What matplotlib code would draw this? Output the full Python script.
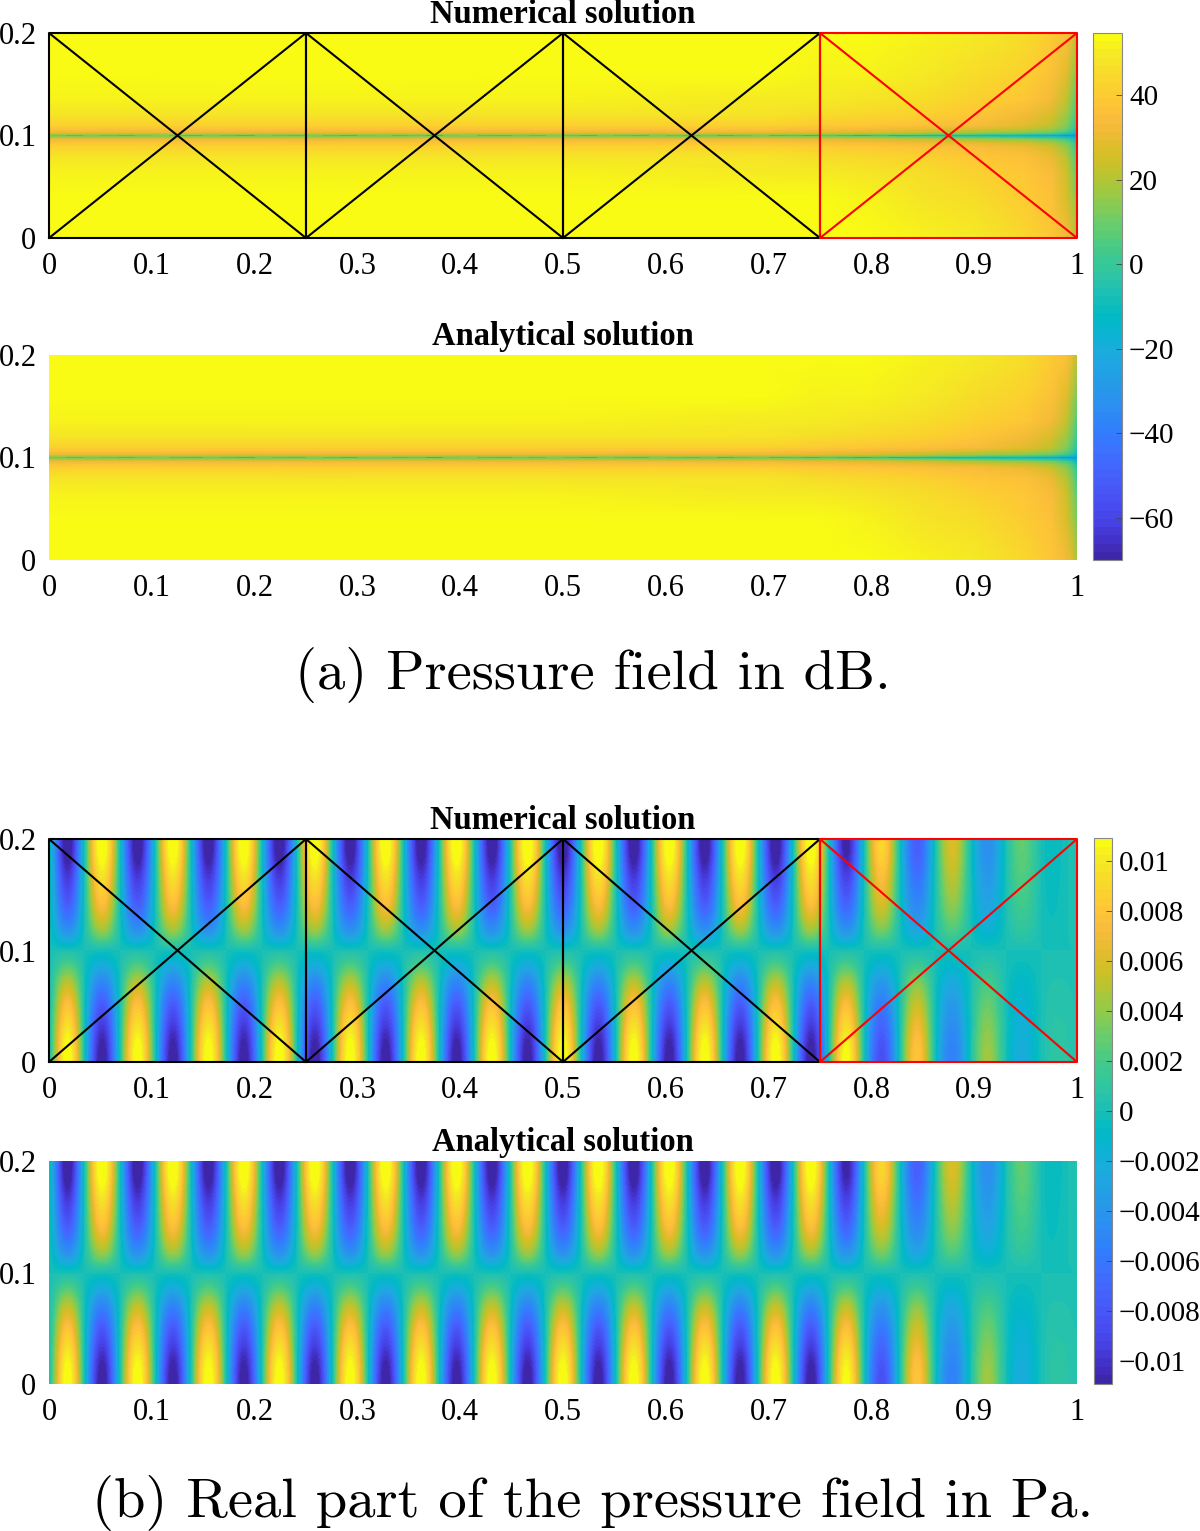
import numpy as np
import matplotlib
matplotlib.use('Agg')
import matplotlib.pyplot as plt
from matplotlib.colors import LinearSegmentedColormap, Normalize
from matplotlib.cm import ScalarMappable

W, H = 1200, 1531
SERIF = 'Liberation Serif'

# parula
parula_colors = [(0.2422, 0.1504, 0.6603), (0.2647, 0.1978, 0.7952), (0.2783, 0.2559, 0.8991),
                 (0.2813, 0.3006, 0.9414), (0.2795, 0.3447, 0.9717), (0.2699, 0.3892, 0.9906),
                 (0.2440, 0.4358, 0.9988), (0.1963, 0.4847, 0.9892), (0.1786, 0.5289, 0.9682),
                 (0.1687, 0.5703, 0.9359), (0.1460, 0.6091, 0.9079), (0.1248, 0.6459, 0.8883),
                 (0.0952, 0.6798, 0.8598), (0.0297, 0.7082, 0.8163), (0.0067, 0.7312, 0.7660),
                 (0.0964, 0.7500, 0.7120), (0.1717, 0.7670, 0.6554), (0.2161, 0.7843, 0.5923),
                 (0.2906, 0.7973, 0.5188), (0.3909, 0.8029, 0.4354), (0.5044, 0.7993, 0.3480),
                 (0.6174, 0.7876, 0.2612), (0.7242, 0.7698, 0.1910), (0.8203, 0.7498, 0.1535),
                 (0.9035, 0.7330, 0.1774), (0.9728, 0.7298, 0.2394), (0.9970, 0.7659, 0.2199),
                 (0.9892, 0.8136, 0.1885), (0.9676, 0.8639, 0.1643), (0.9597, 0.9135, 0.1423),
                 (0.9769, 0.9839, 0.0805)]
parula = LinearSegmentedColormap.from_list('parula', parula_colors, N=64)

# tick labels
x_ticks = [0, 0.1, 0.2, 0.3, 0.4, 0.5, 0.6, 0.7, 0.8, 0.9, 1]
x_labels = ['0', '0.1', '0.2', '0.3', '0.4', '0.5', '0.6', '0.7', '0.8', '0.9', '1']
y_ticks = [0, 0.1, 0.2]
y_labels = ['0', '0.1', '0.2']
cb_a_ticks = [-60, -40, -20, 0, 20, 40]
cb_a_labels = ['\u221260', '\u221240', '\u221220', '0', '20', '40']
cb_b_ticks = [-0.01, -0.008, -0.006, -0.004, -0.002, 0, 0.002, 0.004, 0.006, 0.008, 0.01]
cb_b_labels = ['\u22120.01', '\u22120.008', '\u22120.006', '\u22120.004', '\u22120.002', '0',
               '0.002', '0.004', '0.006', '0.008', '0.01']
clim_a = (-70, 54.7)
clim_b = (-0.0109, 0.0109)

# mesh element edges
elem_edges = [0, 0.25, 0.5, 0.75]
elem_width = 0.25
y_min, y_max = 0, 0.2

db_x = [0, 0.5, 0.7, 0.75, 0.8, 0.85, 0.9, 0.95, 0.975, 0.99, 0.997, 1]
db_off = [0, 0.0015, 0.003, 0.006, 0.01, 0.02, 0.035, 0.06, 0.1]
db_mid = [8, 8, 8, 7, 3, -4, -10, -15, -20, -25, -30, -35]
db_near_0015 = [18, 18, 18, 17, 14, 10, 6, 2, -2, -8, -14, -20]
db_near_003 = [31, 31, 30, 29, 26, 22, 16, 12, 8, 2, -6, -12]
db_near_006 = [37, 37, 36, 35, 33, 30, 26, 22, 16, 8, 0, -6]
db_up_01 = [43, 43, 42, 41, 39, 37, 34, 29, 22, 12, 3, -2]
db_up_02 = [48, 48, 47, 46, 44, 42, 38, 33, 27, 17, 7, 2]
db_up_035 = [51, 51, 50, 49, 48, 46, 43, 38, 32, 22, 10, 5]
db_up_06 = [54, 54, 53, 52, 51, 49, 46, 42, 36, 28, 16, 10]
db_up_1 = [55, 55, 55, 54, 53, 51, 49, 45, 41, 36, 28, 20]
db_dn_01 = [43, 43, 42, 41, 39, 37, 35, 31, 25, 14, 5, 0]
db_dn_02 = [48, 48, 47, 46, 44, 42, 39, 36, 31, 20, 9, 3]
db_dn_035 = [51, 51, 50, 49, 48, 46, 43, 39, 35, 25, 13, 6]
db_dn_06 = [54, 54, 53, 53, 51, 48, 45, 41, 36, 27, 17, 10]
db_dn_1 = [55, 55, 55, 55, 54, 52, 49, 44, 38, 33, 26, 18]

# speckled core of the y=0.1 line, equal stretches from x=0 to x=1
db_core = [6, -2, 9, 3, -5, 7, 12, 0, -4, 8, 2, -6, 10, 4, -3, 11, 1, -7, 6, 9,
           -2, 5, -8, 8, 13, 0, -4, 7, -1, 10, 3, -6, 9, 1, -5, 11, 4, -2, 6, -7,
           3, 8, -4, 0, -9, 2, -6, -12, -5, -15, -10, -18, -13, -22, -16, -24, -19, -27, -30, -38]

# real part, extrema along the top and bottom edges (every half wave, x = 1/58, 3/58, ...)
top_peaks = [-0.0105, 0.0105, -0.0105, 0.0105, -0.0105, 0.0105, -0.0105, 0.0105, -0.0105, 0.0105,
             -0.0105, 0.0105, -0.0105, 0.0105, -0.0105, 0.0105, -0.0105, 0.0105, -0.0105, 0.0105,
             -0.0105, 0.0105, -0.0100, 0.0082, -0.0068, 0.0055, -0.0040, 0.0025, -0.0004]
bot_peaks = [0.0105, -0.0105, 0.0105, -0.0105, 0.0105, -0.0105, 0.0105, -0.0105, 0.0105, -0.0105,
             0.0105, -0.0105, 0.0105, -0.0105, 0.0105, -0.0105, 0.0105, -0.0105, 0.0105, -0.0105,
             0.0105, -0.0105, 0.0102, -0.0078, 0.0075, -0.0050, 0.0040, -0.0020, 0.0008]
edge_value = 0.0004
# share of the edge value at y = 0.1, 0.1125, ... 0.2 and y = 0.1, 0.0875, ... 0
top_profile = [0, 0.30, 0.52, 0.68, 0.80, 0.90, 1.00, 1.08, 1.10]
bot_profile = [0, 0.20, 0.42, 0.60, 0.75, 0.87, 0.98, 1.05, 1.08]


def px_axes(x0, y0, x1, y1):
    return plt.axes([x0 / W, 1 - y1 / H, (x1 - x0) / W, (y1 - y0) / H])


def style_panel(ax, title):
    ax.set_xlim(0, 1)
    ax.set_ylim(y_min, y_max)
    ax.set_xticks(x_ticks, x_labels, fontfamily=SERIF, fontsize=22)
    ax.set_yticks(y_ticks, y_labels, fontfamily=SERIF, fontsize=22)
    ax.tick_params(axis='both', direction='in', length=0)
    ax.tick_params(axis='x', pad=10)
    ax.tick_params(axis='y', pad=9)
    for s in ax.spines.values():
        s.set_visible(False)
    ax.annotate(title, (0.5, 1.0), xycoords='axes fraction', xytext=(0, 2.5), textcoords='offset points',
                ha='center', va='bottom', fontfamily=SERIF, fontweight='bold', fontsize=23.5,
                annotation_clip=False)


def draw_mesh(ax):
    for x0 in elem_edges:
        c = 'red' if x0 == elem_edges[-1] else 'black'
        x1 = x0 + elem_width
        ax.plot([x0, x1, x1, x0, x0], [y_min, y_min, y_max, y_max, y_min], color=c, lw=1.5, clip_on=False)
        ax.plot([x0, x1], [y_min, y_max], color=c, lw=1.5)
        ax.plot([x0, x1], [y_max, y_min], color=c, lw=1.5)


def draw_db(ax):
    near = [db_mid, db_near_0015, db_near_003, db_near_006]
    up = near + [db_up_01, db_up_02, db_up_035, db_up_06, db_up_1]
    dn = near + [db_dn_01, db_dn_02, db_dn_035, db_dn_06, db_dn_1]
    y = [0.1 - d for d in db_off[::-1]] + [0.1 + d for d in db_off[1:]]
    z = np.array(dn[::-1] + up[1:])
    ax.pcolormesh(db_x, y, z, cmap=parula, vmin=clim_a[0], vmax=clim_a[1], shading='gouraud')
    core_x = np.linspace(0, 1, len(db_core) + 1)
    ax.pcolormesh(core_x, [0.0993, 0.1007], [db_core], cmap=parula, vmin=clim_a[0], vmax=clim_a[1])


def draw_real(ax):
    z = np.zeros((17, 59))
    for j, s in enumerate(top_profile):
        z[8 + j, 1::2] = np.array(top_peaks) * s
        z[8 + j, -1] = edge_value * s
    for j, s in enumerate(bot_profile):
        z[8 - j, 1::2] = np.array(bot_peaks) * s
        z[8 - j, -1] = edge_value * s
    dx, dy = 0.5 / 58, 0.5 * 0.0125
    ax.imshow(z, origin='lower', aspect='auto', cmap=parula, vmin=clim_b[0], vmax=clim_b[1],
              extent=[-dx, 1 + dx, -dy, 0.2 + dy], interpolation='spline36', interpolation_stage='data')


def colorbar(box, clim, ticks, labels):
    cax = px_axes(*box)
    cb = plt.colorbar(ScalarMappable(Normalize(*clim), parula), cax=cax)
    cb.set_ticks(ticks, labels=labels, fontfamily=SERIF, fontsize=21)
    cax.tick_params(direction='in', length=4, width=0.6, color='#444444', pad=5)
    cb.outline.set_edgecolor('#888888')
    cb.outline.set_linewidth(0.8)


fig = plt.figure(figsize=(W / 100, H / 100), dpi=100)

ax1 = px_axes(49, 33, 1077, 238)
draw_db(ax1)
style_panel(ax1, 'Numerical solution')
draw_mesh(ax1)

ax2 = px_axes(49, 355, 1077, 560)
draw_db(ax2)
style_panel(ax2, 'Analytical solution')

colorbar((1093, 33, 1122, 560), clim_a, cb_a_ticks, cb_a_labels)

ax3 = px_axes(49, 839, 1077, 1062)
draw_real(ax3)
style_panel(ax3, 'Numerical solution')
draw_mesh(ax3)

ax4 = px_axes(49, 1161, 1077, 1384)
draw_real(ax4)
style_panel(ax4, 'Analytical solution')

colorbar((1094, 838, 1112, 1384), clim_b, cb_b_ticks, cb_b_labels)

fig.text(593 / W, 1 - 675 / H, '(a) Pressure field in dB.', ha='center', va='center', fontfamily='cmr10', fontsize=40.7)
fig.text(593 / W, 1 - 1503 / H, '(b) Real part of the pressure field in Pa.', ha='center', va='center', fontfamily='cmr10', fontsize=40.7)

fig.savefig('out.png', dpi=100)
